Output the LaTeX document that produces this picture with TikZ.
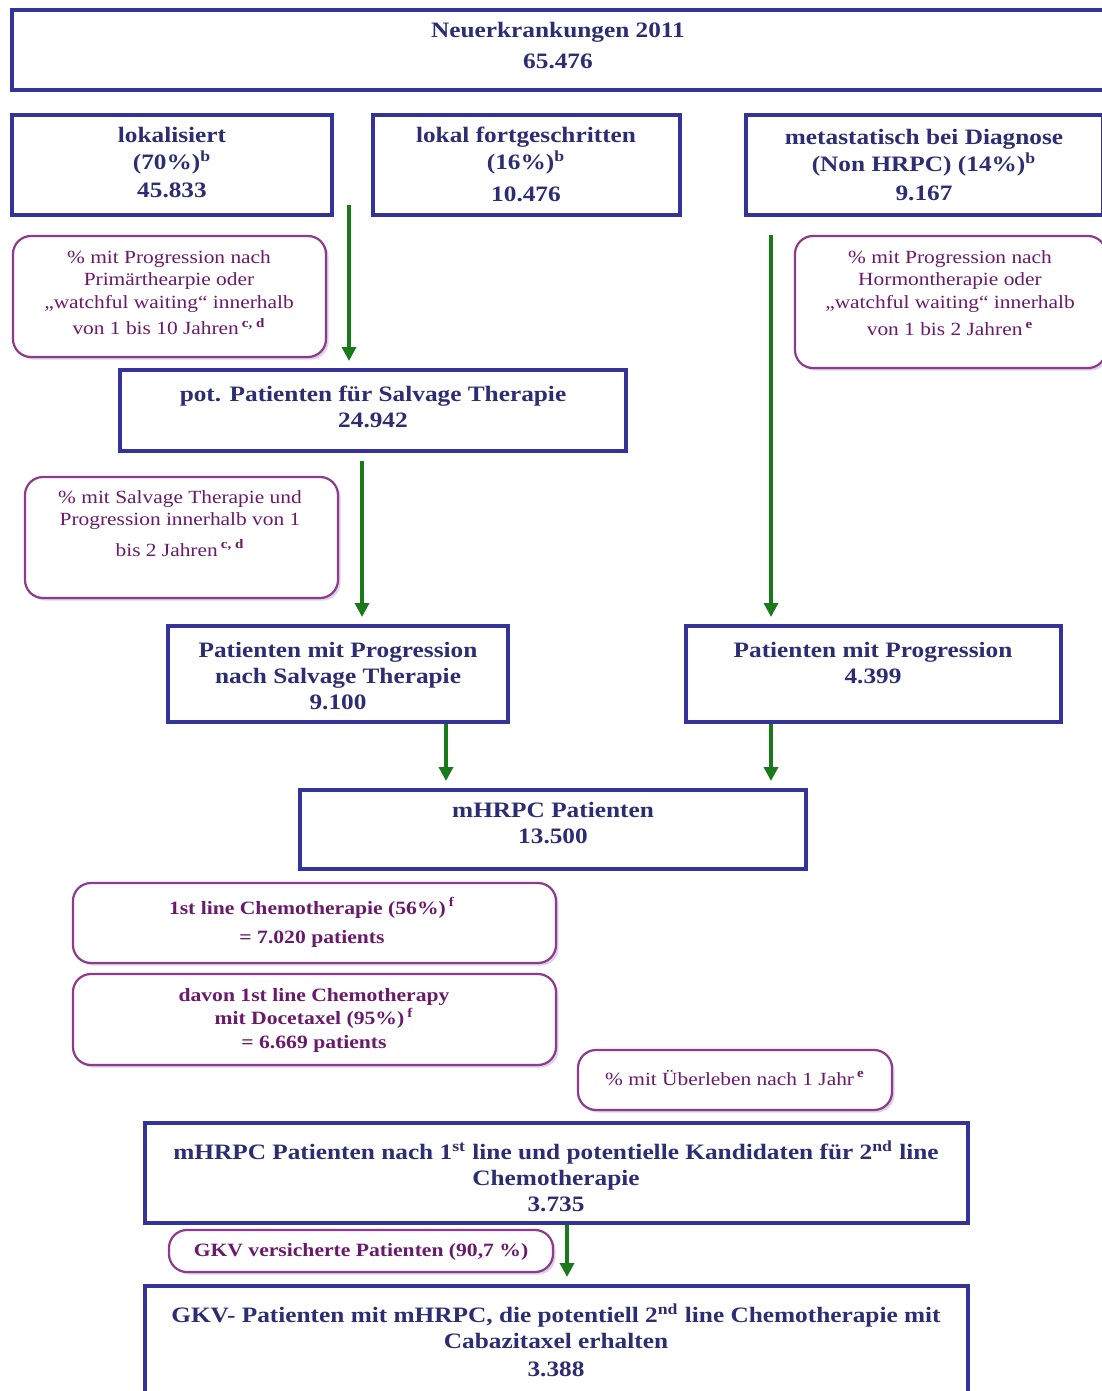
\documentclass[tikz,border=0pt]{standalone}
\usepackage{fontspec}
\setmainfont[FakeStretch=1.15]{Liberation Serif}
\usetikzlibrary{arrows.meta,fit,shadows}
\definecolor{bboxc}{HTML}{333399}
\definecolor{btxt}{HTML}{2D2D73}
\definecolor{pbord}{HTML}{8E3A8E}
\definecolor{ptxt}{HTML}{6A1A6A}
\definecolor{garr}{HTML}{1A7A1A}
\definecolor{shad}{HTML}{DCD4E6}
\tikzset{
  bluebox/.style={draw=bboxc, line width=2pt, rectangle, inner sep=0pt, fill=white,
    drop shadow={shadow xshift=0.8pt, shadow yshift=-0.8pt, fill=shad, opacity=0.7}},
  pinkbox/.style={draw=pbord, line width=1.1pt, rounded corners=9pt, inner sep=0pt, fill=white,
    drop shadow={shadow xshift=1.3pt, shadow yshift=-1.3pt, fill=shad, opacity=1}},
  btext/.style={text=btxt, font=\fontsize{11}{13.5}\selectfont\bfseries, align=center, inner sep=0pt, anchor=north},
  ptext/.style={text=ptxt, font=\fontsize{9.3}{11.25}\selectfont, align=center, inner sep=0pt, anchor=north},
  pbtext/.style={text=ptxt, font=\fontsize{9.4}{11.75}\selectfont\bfseries, align=center, inner sep=0pt, anchor=north},
  garrow/.style={draw=garr, line width=1.7pt, -{Triangle[length=7pt,width=7pt]}, shorten >=3.5pt}
}
\begin{document}
\begin{tikzpicture}[x=0.5pt,y=-0.5pt]
\useasboundingbox (0,0) rectangle (1102,1391);
\clip (0,0) rectangle (1102,1391);
\fill[white] (0,0) rectangle (1102,1391);

% blue boxes
\node[bluebox, fit={(12,10)(1104,90)}] (top) {};
\node[bluebox, fit={(12,115)(332,215)}] (lok) {};
\node[bluebox, fit={(373,115)(680,215)}] (lkf) {};
\node[bluebox, fit={(746,115)(1103,215)}] (met) {};
\node[bluebox, fit={(120,370)(626,451)}] (pot) {};
\node[bluebox, fit={(168,626)(508,722)}] (pns) {};
\node[bluebox, fit={(686,626)(1061,722)}] (prg) {};
\node[bluebox, fit={(300,790)(806,869)}] (mh) {};
\node[bluebox, fit={(145,1123)(968,1223)}] (mone) {};
\node[bluebox, fit={(145,1286)(968,1400)}] (gkv) {};

% rounded boxes
\node[pinkbox, fit={(13,236)(326,357)}] (rA) {};
\node[pinkbox, fit={(795,236)(1106,368)}] (rB) {};
\node[pinkbox, fit={(25,477)(338,598)}] (rC) {};
\node[pinkbox, fit={(73,883)(556,963)}] (rD) {};
\node[pinkbox, fit={(73,974)(556,1065)}] (rE) {};
\node[pinkbox, fit={(578,1050)(892,1110)}] (rF) {};
\node[pinkbox, fit={(169,1230)(553,1272)}] (rG) {};

% texts of blue boxes
\node[btext] (ttop) at (558,22) {Neuerkrankungen 2011\\[2pt]65.476};
\node[btext] (tlok) at (172,127) {lokalisiert\\(70\%)\textsuperscript{b}\\[0.5pt]45.833};
\node[btext] (tlkf) at (526,127) {lokal fortgeschritten\\(16\%)\textsuperscript{b}\\[2.5pt]10.476};
\node[btext] (tmet) at (924,129) {metastatisch bei Diagnose\\(Non HRPC) (14\%)\textsuperscript{b}\\[1pt]9.167};
\node[btext] (tpot) at (373,386) {pot. Patienten für Salvage Therapie\\[-0.5pt]24.942};
\node[btext] (tpns) at (338,642) {Patienten mit Progression\\[-0.5pt]nach Salvage Therapie\\[-0.5pt]9.100};
\node[btext] (tprg) at (873,642) {Patienten mit Progression\\[-0.5pt]4.399};
\node[btext] (tmh) at (553,802) {mHRPC Patienten\\[-0.5pt]13.500};
\node[btext] (tmone) at (556,1140) {mHRPC Patienten nach 1\textsuperscript{st} line und potentielle Kandidaten für 2\textsuperscript{nd} line\\[-0.5pt]Chemotherapie\\[-0.5pt]3.735};
\node[btext] (tgkv) at (556,1303) {GKV- Patienten mit mHRPC, die potentiell 2\textsuperscript{nd} line Chemotherapie mit\\[-0.5pt]Cabazitaxel erhalten\\[0.5pt]3.388};

% texts of rounded boxes
\node[ptext] (trA) at (169,250) {\% mit Progression nach\\Primärthearpie oder\\„watchful waiting“ innerhalb\\[2pt]von 1 bis 10 Jahren\,\textsuperscript{\textbf{c, d}}};
\node[ptext] (trB) at (950,250) {\% mit Progression nach\\Hormontherapie oder\\„watchful waiting“ innerhalb\\[2.5pt]von 1 bis 2 Jahren\,\textsuperscript{\textbf{e}}};
\node[ptext] (trC) at (180,490) {\% mit Salvage Therapie und\\Progression innerhalb von 1\\[4pt]bis 2 Jahren\,\textsuperscript{\textbf{c, d}}};
\node[pbtext] (trD) at (312,897) {1st line Chemotherapie (56\%)\,\textsuperscript{f}\\[3pt]= 7.020 patients};
\node[pbtext] (trE) at (314,988) {davon 1st line Chemotherapy\\mit Docetaxel (95\%)\,\textsuperscript{f}\\= 6.669 patients};
\node[ptext] (trF) at (735,1070) {\% mit Überleben nach 1 Jahr\,\textsuperscript{\textbf{e}}};
\node[pbtext] (trG) at (361,1243) {GKV versicherte Patienten (90,7 \%)};

% arrows
\coordinate (aA) at (349,205);
\coordinate (aB) at (362,461);
\coordinate (aC) at (771,235);
\coordinate (aD) at (446,0);
\coordinate (aE) at (771,0);
\coordinate (aF) at (567,0);
\draw[garrow] (aA) -- (aA |- pot.north);
\draw[garrow] (aB) -- (aB |- pns.north);
\draw[garrow] (aC) -- (aC |- prg.north);
\draw[garrow] (pns.south -| aD) -- (mh.north -| aD);
\draw[garrow] (prg.south -| aE) -- (mh.north -| aE);
\draw[garrow] (mone.south -| aF) -- (gkv.north -| aF);
\end{tikzpicture}
\end{document}
